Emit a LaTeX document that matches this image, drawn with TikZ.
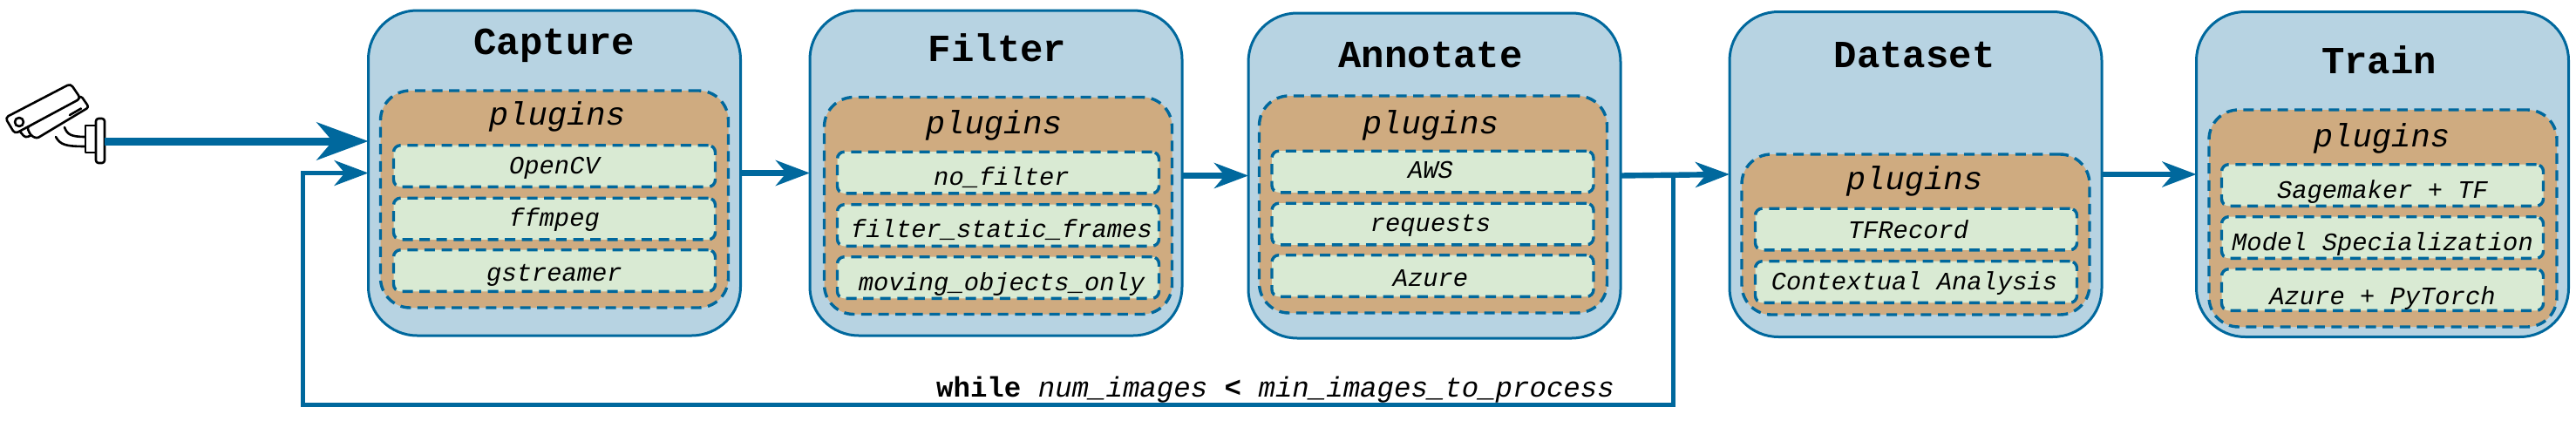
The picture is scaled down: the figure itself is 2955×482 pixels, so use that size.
\documentclass[tikz,border=0pt]{standalone}
\usepackage{fontspec}
\setmainfont{Liberation Mono}
\usetikzlibrary{arrows.meta}

\definecolor{flowblue}{HTML}{00689D}
\definecolor{stagefill}{HTML}{B7D3E2}
\definecolor{plugfill}{HTML}{CFAB80}
\definecolor{itemfill}{HTML}{D9EAD3}

\tikzset{
  stagebox/.style={draw=flowblue, fill=stagefill, line width=1.5pt, rounded corners=28pt,
    minimum width=213.5pt, minimum height=186.5pt, outer sep=0pt},
  plugbox/.style={draw=flowblue, fill=plugfill, line width=1.7pt, dash pattern=on 6pt off 3.8pt,
    rounded corners=17pt, minimum width=199.5pt, minimum height=124.5pt, outer sep=0pt},
  itembox/.style={draw=flowblue, fill=itemfill, line width=1.7pt, dash pattern=on 6pt off 3.8pt,
    rounded corners=4pt, minimum width=184.5pt, minimum height=23.8pt, outer sep=0pt},
  stagetitle/.style={anchor=base, inner sep=0pt, font=\fontsize{22}{24}\selectfont\bfseries},
  plugtitle/.style={anchor=base, inner sep=0pt, font=\fontsize{18.6}{22}\selectfont\itshape},
  itemtext/.style={anchor=base, inner sep=0pt, font=\fontsize{14.4}{17}\selectfont\itshape},
  flow/.style={draw=flowblue, line width=3.2pt, -{Stealth[length=19.5pt,width=14.5pt,inset=6pt]}},
  camflow/.style={draw=flowblue, line width=4.5pt, -{Stealth[length=29.5pt,width=21.5pt,inset=9pt]}},
  loopflow/.style={draw=flowblue, line width=2.5pt, -{Stealth[length=19.5pt,width=14.5pt,inset=6pt]}},
  camline/.style={draw=black, fill=white, line width=1.3pt, line join=round, line cap=round},
}

\begin{document}
\begin{tikzpicture}[x=0.5pt, y=-0.5pt]
  \useasboundingbox (0,0) rectangle (2955,482);

  % Camera
  \draw[camline, rounded corners=1.5pt] (23,151) -- (29,158) -- (39,154);
  \draw[camline, rounded corners=1.5pt] (35,155) -- (42,159) -- (102,123) -- (93,110) -- (31,146) -- cycle;
  \draw[camline, rounded corners=2pt] (6,135) -- (81,96) -- (92.5,113) -- (17,153.5) -- cycle;
  \draw[camline] (22,140) circle (5);
  \draw[camline] (80,132) -- (93,124.5);
  \draw[camline, fill=none] (74,146) .. controls (77,154) and (81,157) .. (98,157);
  \draw[camline, fill=none] (64,157) .. controls (69,166) and (75,168) .. (98,168);
  \draw[camline] (98,144) rectangle (110,175);
  \draw[camline, rounded corners=1.5pt] (110,136) rectangle (120,187);
  \coordinate (camout) at (120,162);

  % Capture stage
  \node[stagebox] (capture) at (636,198.5) {};
  \node[stagetitle] (capturetitle) at (636,62) {Capture};
  \node[plugbox] (captureplug) at (636,228.5) {};
  \node[plugtitle] (captureplugtitle) at (639,143) {plugins};
  \node[itembox] (opencvbox) at (636,190.5) {};
  \node[itemtext] (opencv) at (636,199) {OpenCV};
  \node[itembox] (ffmpegbox) at (636,251) {};
  \node[itemtext] (ffmpeg) at (636,259) {ffmpeg};
  \node[itembox] (gstreamerbox) at (636,310.5) {};
  \node[itemtext] (gstreamer) at (636,322) {gstreamer};

  % Filter stage
  \node[stagebox] (filter) at (1142.5,198.5) {};
  \node[stagetitle] (filtertitle) at (1144,70) {Filter};
  \node[plugbox] (filterplug) at (1145,236) {};
  \node[plugtitle] (filterplugtitle) at (1140,153) {plugins};
  \node[itembox] (nofilterbox) at (1145,198) {};
  \node[itemtext] (nofilter) at (1149,212) {no\_filter};
  \node[itembox] (staticbox) at (1145,258.5) {};
  \node[itemtext] (static) at (1149,272) {filter\_static\_frames};
  \node[itembox] (movingbox) at (1145,318.5) {};
  \node[itemtext] (moving) at (1149,333) {moving\_objects\_only};

  % Annotate stage
  \node[stagebox] (annotate) at (1645.5,201.5) {};
  \node[stagetitle] (annotatetitle) at (1641,77) {Annotate};
  \node[plugbox] (annotateplug) at (1644,234.5) {};
  \node[plugtitle] (annotateplugtitle) at (1641,153) {plugins};
  \node[itembox] (awsbox) at (1643.5,197) {};
  \node[itemtext] (aws) at (1641,204) {AWS};
  \node[itembox] (requestsbox) at (1643.5,257) {};
  \node[itemtext] (requests) at (1641,265) {requests};
  \node[itembox] (azurebox) at (1643.5,316.5) {};
  \node[itemtext] (azure) at (1641,328) {Azure};

  % Dataset stage
  \node[stagebox] (dataset) at (2197.5,200) {};
  \node[stagetitle] (datasettitle) at (2196,77) {Dataset};
  \node[plugbox, minimum height=92pt] (datasetplug) at (2197.5,269) {};
  \node[plugtitle] (datasetplugtitle) at (2196,217) {plugins};
  \node[itembox] (tfrecordbox) at (2198,263) {};
  \node[itemtext] (tfrecord) at (2189,273) {TFRecord};
  \node[itembox] (contextualbox) at (2198,323.5) {};
  \node[itemtext] (contextual) at (2196,332) {Contextual Analysis};

  % Train stage
  \node[stagebox] (train) at (2733,200) {};
  \node[stagetitle] (traintitle) at (2729,84) {Train};
  \node[plugbox] (trainplug) at (2733.5,250.5) {};
  \node[plugtitle] (trainplugtitle) at (2732,168) {plugins};
  \node[itembox] (sagemakerbox) at (2733,212.5) {};
  \node[itemtext] (sagemaker) at (2733,227) {Sagemaker + TF};
  \node[itembox] (specialbox) at (2733,272.5) {};
  \node[itemtext] (special) at (2733,287) {Model Specialization};
  \node[itembox] (pytorchbox) at (2733,332.5) {};
  \node[itemtext] (pytorch) at (2733,349) {Azure + PyTorch};

  % Arrows between stages
  \draw[camflow] (camout) -- (camout -| capture.west);
  \draw[flow] (capture.east) -- (filter.west);
  \draw[flow] (filter.east |- annotate.west) -- (annotate.west);
  \draw[flow] (annotate.east) -- (dataset.west);
  \draw[flow] (dataset.east) -- (train.west);

  % Loop back to capture
  \coordinate (looptop) at (1919,201);
  \coordinate (loopright) at (1919,464);
  \coordinate (loopleft) at (347,464);
  \coordinate (loopin) at (347,198.5);
  \draw[loopflow] (looptop) -- (loopright) -- (loopleft) -- (loopin) -- (capture.west);
  \node[anchor=base, inner sep=0pt, font=\fontsize{16.2}{19}\selectfont] (looplabel) at (1463,455)
    {\textbf{while} \textit{num\_images} \textbf{<} \textit{min\_images\_to\_process}};
\end{tikzpicture}
\end{document}
